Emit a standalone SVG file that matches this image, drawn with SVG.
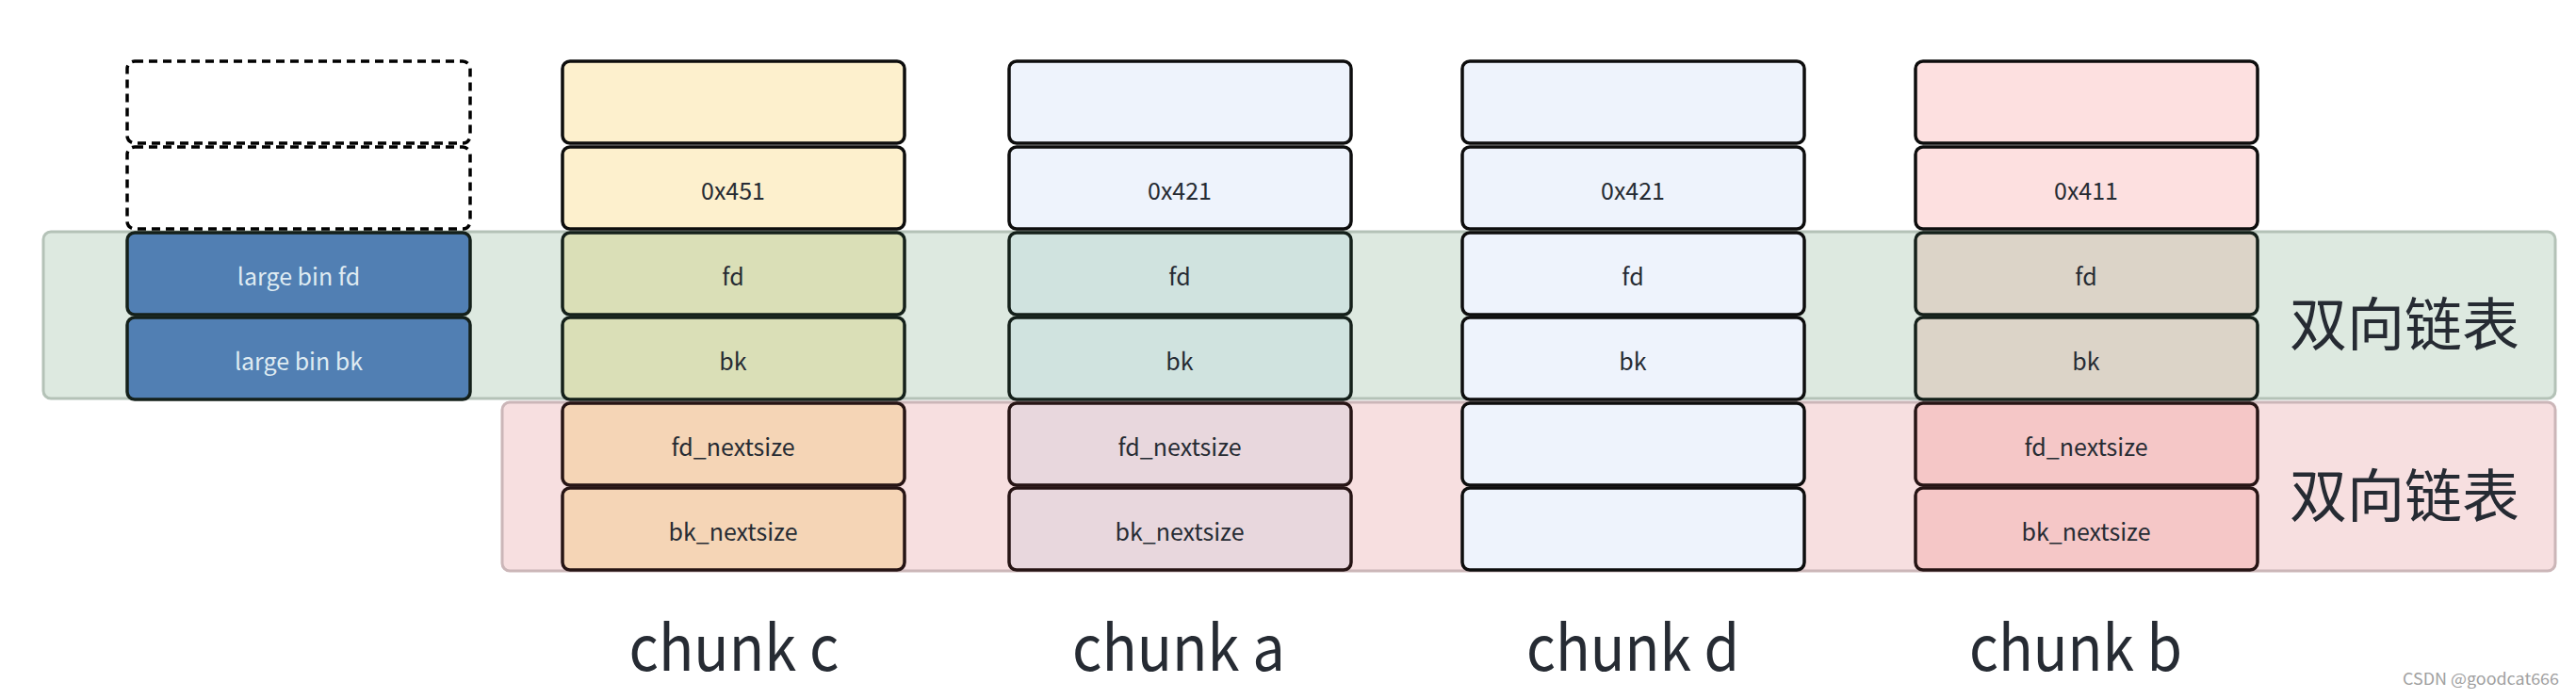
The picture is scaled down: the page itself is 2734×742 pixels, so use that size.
<svg xmlns="http://www.w3.org/2000/svg" width="2734" height="742" viewBox="0 0 2734 742">
<style>
text{font-family:"Noto Sans CJK SC","Noto Sans",sans-serif;fill:#262b33;}
.cell{stroke:#0d0d0d;stroke-width:3.5;}
.gz{stroke:#14201a;}
.pz{stroke:#261414;}
.t{font-size:25px;text-anchor:middle;dominant-baseline:central;}
.big{font-size:67px;text-anchor:middle;}
.cn{font-size:61px;text-anchor:middle;dominant-baseline:central;}
.y1{fill:#fdf0cd}.y2{fill:#dadfb7}.y3{fill:#f5d5b6}
.a1{fill:#eef3fc}.a2{fill:#d0e3df}.a3{fill:#e8d7dd}
.b1{fill:#fde0e0}.b2{fill:#dcd4c8}.b3{fill:#f5c7c7}
.dash{fill:#fff;stroke:#000;stroke-width:3.5;stroke-dasharray:9 6;}
</style>
<rect width="2734" height="742" fill="#ffffff"/>
<g id="bands">
<rect id="band-green" x="46" y="246" width="2666" height="177" rx="8" fill="#dde9e0" stroke="#b4c2b7" stroke-width="3"/>
<rect id="band-pink" x="533" y="427" width="2179" height="179" rx="8" fill="#f7dfe0" stroke="#cbb6b8" stroke-width="3"/>
<text class="cn" x="2552" y="340">双向链表</text>
<text class="cn" x="2552" y="522">双向链表</text>
</g>
<g id="largebin">
<rect class="dash" x="135" y="65" width="364" height="87" rx="8"/>
<rect class="dash" x="135" y="156" width="364" height="87" rx="8"/>
<rect class="cell gz" x="135" y="247" width="364" height="87" rx="8" fill="#517fb3"/>
<text class="t" x="317" y="292" style="fill:#dfebf2">large bin fd</text>
<rect class="cell gz" x="135" y="337" width="364" height="87" rx="8" fill="#517fb3"/>
<text class="t" x="317" y="382" style="fill:#dfebf2">large bin bk</text>
</g>
<g id="chunk-c">
<rect class="cell y1" x="597" y="65" width="363" height="87" rx="8"/>
<rect class="cell y1" x="597" y="156" width="363" height="87" rx="8"/>
<text class="t" x="778" y="201">0x451</text>
<rect class="cell gz y2" x="597" y="247" width="363" height="87" rx="8"/>
<text class="t" x="778" y="292">fd</text>
<rect class="cell gz y2" x="597" y="337" width="363" height="87" rx="8"/>
<text class="t" x="778" y="382">bk</text>
<rect class="cell pz y3" x="597" y="428" width="363" height="87" rx="8"/>
<text class="t" x="778" y="473">fd_nextsize</text>
<rect class="cell pz y3" x="597" y="518" width="363" height="87" rx="8"/>
<text class="t" x="778" y="563">bk_nextsize</text>
<text class="big" x="779" y="712" textLength="223" lengthAdjust="spacingAndGlyphs">chunk c</text>
</g>
<g id="chunk-a">
<rect class="cell a1" x="1071" y="65" width="363" height="87" rx="8"/>
<rect class="cell a1" x="1071" y="156" width="363" height="87" rx="8"/>
<text class="t" x="1252" y="201">0x421</text>
<rect class="cell gz a2" x="1071" y="247" width="363" height="87" rx="8"/>
<text class="t" x="1252" y="292">fd</text>
<rect class="cell gz a2" x="1071" y="337" width="363" height="87" rx="8"/>
<text class="t" x="1252" y="382">bk</text>
<rect class="cell pz a3" x="1071" y="428" width="363" height="87" rx="8"/>
<text class="t" x="1252" y="473">fd_nextsize</text>
<rect class="cell pz a3" x="1071" y="518" width="363" height="87" rx="8"/>
<text class="t" x="1252" y="563">bk_nextsize</text>
<text class="big" x="1251" y="712" textLength="226" lengthAdjust="spacingAndGlyphs">chunk a</text>
</g>
<g id="chunk-d">
<rect class="cell a1" x="1552" y="65" width="363" height="87" rx="8"/>
<rect class="cell a1" x="1552" y="156" width="363" height="87" rx="8"/>
<text class="t" x="1733" y="201">0x421</text>
<rect class="cell a1" x="1552" y="247" width="363" height="87" rx="8"/>
<text class="t" x="1733" y="292">fd</text>
<rect class="cell a1" x="1552" y="337" width="363" height="87" rx="8"/>
<text class="t" x="1733" y="382">bk</text>
<rect class="cell a1" x="1552" y="428" width="363" height="87" rx="8"/>
<rect class="cell a1" x="1552" y="518" width="363" height="87" rx="8"/>
<text class="big" x="1733" y="712" textLength="226" lengthAdjust="spacingAndGlyphs">chunk d</text>
</g>
<g id="chunk-b">
<rect class="cell b1" x="2033" y="65" width="363" height="87" rx="8"/>
<rect class="cell b1" x="2033" y="156" width="363" height="87" rx="8"/>
<text class="t" x="2214" y="201">0x411</text>
<rect class="cell gz b2" x="2033" y="247" width="363" height="87" rx="8"/>
<text class="t" x="2214" y="292">fd</text>
<rect class="cell gz b2" x="2033" y="337" width="363" height="87" rx="8"/>
<text class="t" x="2214" y="382">bk</text>
<rect class="cell pz b3" x="2033" y="428" width="363" height="87" rx="8"/>
<text class="t" x="2214" y="473">fd_nextsize</text>
<rect class="cell pz b3" x="2033" y="518" width="363" height="87" rx="8"/>
<text class="t" x="2214" y="563">bk_nextsize</text>
<text class="big" x="2203" y="712" textLength="226" lengthAdjust="spacingAndGlyphs">chunk b</text>
</g>
<g id="connectors"></g>
<text x="2716" y="727" style="font-size:17px;fill:#a0a0a0;text-anchor:end" textLength="166" lengthAdjust="spacingAndGlyphs">CSDN @goodcat666</text>
</svg>
